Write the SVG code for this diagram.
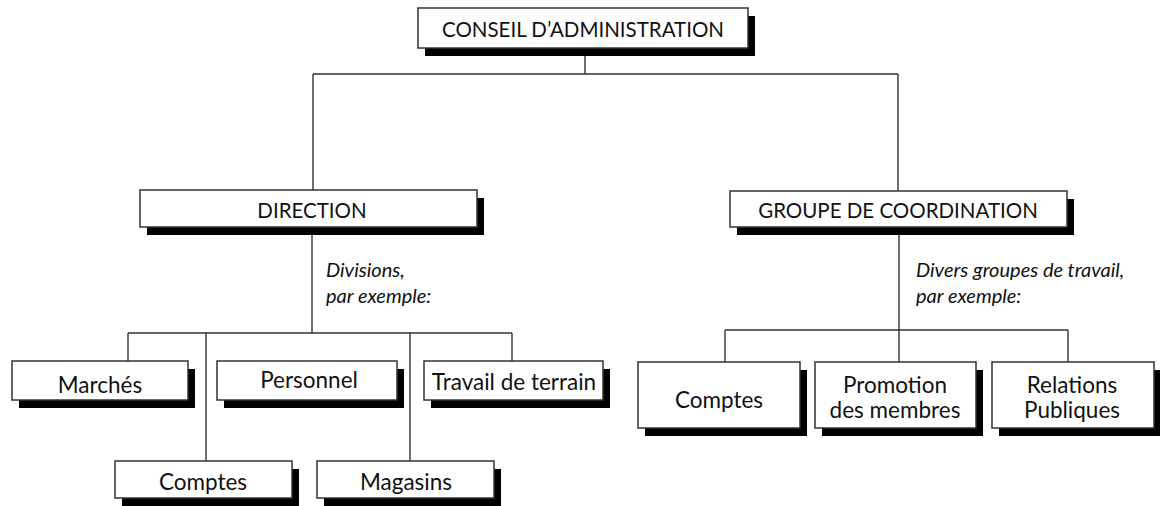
<svg xmlns="http://www.w3.org/2000/svg" width="1160" height="506" viewBox="0 0 1160 506">
<style>
.sh{fill:#000}
.bx{fill:#fff;stroke:#333;stroke-width:1.5}
.c{font-family:Lato,"Open Sans","Liberation Sans",sans-serif;font-size:20.5px;fill:#111;text-anchor:middle}
.t{font-family:Lato,"Open Sans","Liberation Sans",sans-serif;font-size:22.5px;fill:#111;text-anchor:middle}
.i{font-family:Lato,"Open Sans","Liberation Sans",sans-serif;font-size:20px;font-style:italic;fill:#111}
.ln{fill:none;stroke:#333;stroke-width:1.4}
</style>
<g id="connectors" class="ln">
<path d="M585 48V74M313 74H898M313 74V190M898 74V191"/>
<path d="M312 227V333M128 333H512M128 333V361M206 333V461M410 333V461M512 333V361"/>
<path d="M899 227V330M725 330H1068M725 330V362M899 330V362M1068 330V362"/>
</g>
<g id="n-conseil"><rect class="sh" x="425" y="16" width="330" height="40"/><rect class="bx" x="418" y="8" width="330" height="40"/><text class="c" x="583" y="37">CONSEIL D’ADMINISTRATION</text></g>
<g id="n-direction"><rect class="sh" x="147" y="198" width="337" height="37"/><rect class="bx" x="140" y="190" width="337" height="37"/><text class="c" x="312" y="218">DIRECTION</text></g>
<g id="n-groupe"><rect class="sh" x="737" y="199" width="337" height="36"/><rect class="bx" x="730" y="191" width="337" height="36"/><text class="c" x="898" y="218">GROUPE DE COORDINATION</text></g>
<g id="l-divisions"><text class="i" x="326" y="277">Divisions,</text><text class="i" x="326" y="303">par exemple:</text></g>
<g id="l-groupes"><text class="i" x="916" y="277">Divers groupes de travail,</text><text class="i" x="916" y="303">par exemple:</text></g>
<g id="n-marches"><rect class="sh" x="19" y="369" width="176" height="39"/><rect class="bx" x="12" y="361" width="176" height="39"/><text class="t" x="100" y="393">Marchés</text></g>
<g id="n-personnel"><rect class="sh" x="224" y="369" width="180" height="39"/><rect class="bx" x="217" y="361" width="180" height="39"/><text class="t" x="309" y="388">Personnel</text></g>
<g id="n-travail"><rect class="sh" x="431" y="369" width="179" height="39"/><rect class="bx" x="424" y="361" width="179" height="39"/><text class="t" x="514" y="390">Travail de terrain</text></g>
<g id="n-comptes1"><rect class="sh" x="122" y="469" width="177" height="37"/><rect class="bx" x="115" y="461" width="177" height="37"/><text class="t" x="203" y="490">Comptes</text></g>
<g id="n-magasins"><rect class="sh" x="324" y="469" width="177" height="37"/><rect class="bx" x="317" y="461" width="177" height="37"/><text class="t" x="406" y="490">Magasins</text></g>
<g id="n-comptes2"><rect class="sh" x="645" y="370" width="162" height="66"/><rect class="bx" x="638" y="362" width="162" height="66"/><text class="t" x="719" y="408">Comptes</text></g>
<g id="n-promotion"><rect class="sh" x="822" y="370" width="161" height="66"/><rect class="bx" x="815" y="362" width="161" height="66"/><text class="t" x="895" y="393">Promotion</text><text class="t" x="895" y="418">des membres</text></g>
<g id="n-relations"><rect class="sh" x="999" y="370" width="162" height="66"/><rect class="bx" x="992" y="362" width="162" height="66"/><text class="t" x="1072" y="393">Relations</text><text class="t" x="1072" y="418">Publiques</text></g>
</svg>
